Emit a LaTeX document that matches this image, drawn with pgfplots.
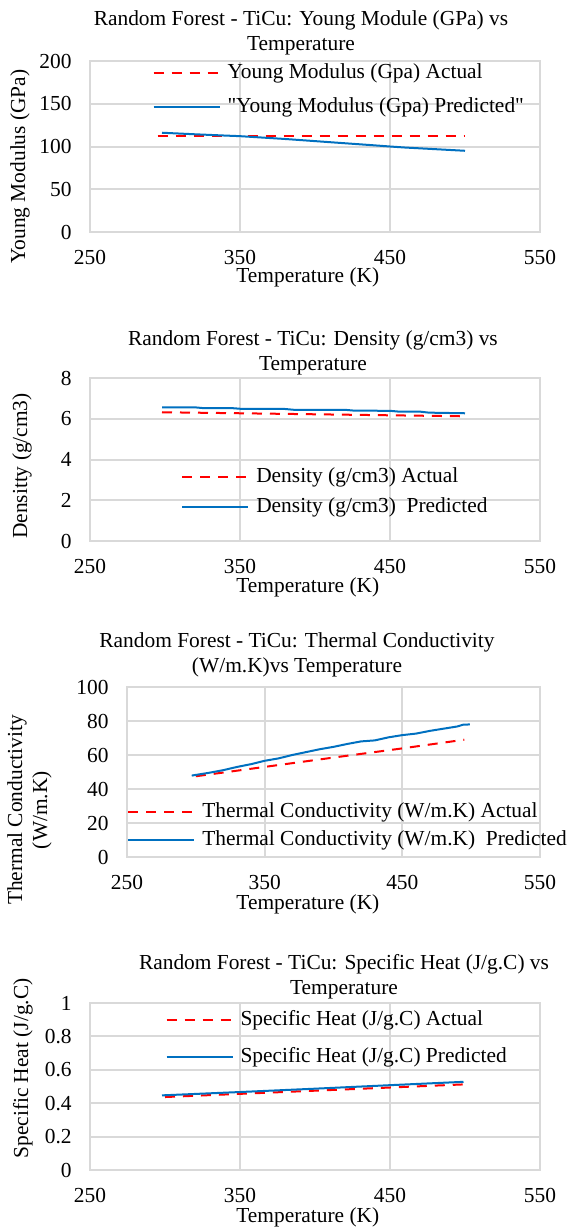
\documentclass[border=0pt]{standalone}
\usepackage{fontspec}
\setmainfont{Liberation Serif}
\newfontfamily\qfont{Liberation Serif}
\usepackage{pgfplots}
\pgfplotsset{compat=1.18}

\definecolor{predblue}{HTML}{0070C0}
\definecolor{actred}{HTML}{FF0000}
\definecolor{gridgray}{HTML}{D9D9D9}

\pgfplotsset{
    excelchart/.style={
        scale only axis,
        xmin=250, xmax=550,
        xtick={250,350,450,550},
        ymin=0,
        grid=major,
        grid style={gridgray, line width=1pt},
        axis line style={gridgray, line width=1pt},
        major tick length=0pt,
        tick style={draw=none},
        font=\fontsize{10.7}{12.5}\selectfont,
        /pgf/number format/assume math mode=true,
        xticklabel style={anchor=center, yshift=-12.75pt},
        yticklabel style={anchor=east, inner sep=0pt, xshift=-9pt},
        every axis title shift=0pt,
        title style={anchor=south, inner sep=0pt, align=center},
        xlabel={Temperature (K)},
        xlabel style={anchor=center, inner sep=0pt},
        ylabel style={anchor=center, inner sep=0pt, align=center, rotate=0},
        legend style={draw=none, fill=none, anchor=north west, inner sep=0pt,
            nodes={inner sep=0pt, text height=7.5pt, text depth=2.5pt},
            /tikz/every odd column/.append style={column sep=3.5pt}},
        legend cell align=left,
        legend image code/.code={\draw[##1] (0pt,0pt) -- (33pt,0pt);},
    },
    actual/.style={actred, line width=1pt, dash pattern=on 5pt off 4pt},
    predicted/.style={predblue, line width=1pt},
}

\begin{document}
\begin{tikzpicture}
\useasboundingbox (0,0) rectangle (283.5pt,-613.5pt);

% Young modulus
\begin{axis}[excelchart,
    at={(45pt,-116pt)}, anchor=south west,
    width=225pt, height=85.5pt,
    ymax=200, ytick={0,50,100,150,200},
    title={Random Forest - TiCu: Young Module (GPa) vs\\Temperature},
    title style={at={(axis description cs:0.5,1)}, xshift=-7pt, yshift=2.75pt},
    xlabel style={at={(axis description cs:0.484,0)}, yshift=-22.75pt},
    ylabel={Young Modulus (GPa)},
    ylabel style={at={(axis description cs:-0.1556,0.383)}},
    legend style={at={(axis description cs:0.138,0.988)}, row sep=7pt},
]
\addplot[actual] coordinates {(295,112.3) (350,112.3) (400,112.3) (450,112.3) (500,112.3)};
\addplot[predicted] coordinates {(298,116.1) (320,114.3) (340,112.8) (350,112.1) (360,111.0)
    (380,108.8) (400,106.3) (420,103.8) (440,101.3) (450,100.0) (460,98.8) (480,96.9) (500,95.0)};
\legend{Young Modulus (Gpa) Actual, {\qfont"Young Modulus (Gpa) Predicted"}}
\end{axis}

% Density
\begin{axis}[excelchart,
    at={(45pt,-270.5pt)}, anchor=south west,
    width=225pt, height=81.5pt,
    ymax=8, ytick={0,2,4,6,8},
    title={Random Forest - TiCu: Density (g/cm3) vs\\Temperature},
    title style={at={(axis description cs:0.5,1)}, xshift=-1pt, yshift=1.25pt},
    xlabel style={at={(axis description cs:0.484,0)}, yshift=-23pt},
    ylabel={Densitty (g/cm3)},
    ylabel style={at={(axis description cs:-0.151,0.46)}},
    legend style={at={(axis description cs:0.202,0.454)}, row sep=5pt},
]
\addplot[actual] coordinates {(298,6.32) (350,6.27) (400,6.22) (450,6.17) (500,6.12)};
\addplot[predicted] coordinates {(298,6.56) (320,6.56) (326,6.52) (345,6.52) (352,6.48) (380,6.48)
    (386,6.44) (420,6.44) (426,6.40) (450,6.39) (456,6.35) (470,6.35) (476,6.30) (500,6.27)};
\legend{Density (g/cm3) Actual, Density (g/cm3)\ \ Predicted}
\end{axis}

% Thermal conductivity
\begin{axis}[excelchart,
    at={(63.5pt,-428.5pt)}, anchor=south west,
    width=206.5pt, height=85pt,
    ymax=100, ytick={0,20,40,60,80,100},
    title={Random Forest - TiCu: Thermal Conductivity\\(W/m.K)vs Temperature},
    title style={at={(axis description cs:0.5,1)}, xshift=-18.25pt, yshift=4.75pt},
    xlabel style={at={(axis description cs:0.438,0)}, yshift=-23.5pt},
    ylabel={Thermal Conductivity\\(W/m.K)},
    ylabel style={at={(axis description cs:-0.236,0.276)}},
    legend style={at={(axis description cs:0.0,0.324)}, row sep=4pt},
]
\addplot[actual] coordinates {(300,47.5) (350,53.0) (400,58.5) (450,63.9) (495,69.0)};
\addplot[predicted] coordinates {(297,47.9) (310,49.6) (320,51.1) (330,53.0) (340,54.6) (350,56.6)
    (360,58.0) (370,60.0) (380,61.7) (390,63.4) (400,64.8) (410,66.5) (420,68.0) (430,68.6)
    (440,70.4) (450,71.7) (460,72.6) (470,74.2) (480,75.5) (490,76.8) (494,77.8) (499,78.0)};
\legend{Thermal Conductivity (W/m.K) Actual, Thermal Conductivity (W/m.K)\ \ Predicted}
\end{axis}

% Specific heat
\begin{axis}[excelchart,
    at={(45pt,-585pt)}, anchor=south west,
    width=225pt, height=83.5pt,
    ymax=1, ytick={0,0.2,0.4,0.6,0.8,1},
    title={Random Forest - TiCu: Specific Heat (J/g.C) vs\\Temperature},
    title style={at={(axis description cs:0.5,1)}, xshift=14.5pt, yshift=1.75pt},
    xlabel style={at={(axis description cs:0.484,0)}, yshift=-23.5pt},
    ylabel={Specific Heat (J/g.C)},
    ylabel style={at={(axis description cs:-0.149,0.608)}},
    legend style={at={(axis description cs:0.167,0.958)}, row sep=8.5pt},
]
\addplot[actual] coordinates {(300,0.437) (350,0.456) (400,0.475) (450,0.494) (500,0.513)};
\addplot[predicted] coordinates {(298,0.447) (350,0.467) (400,0.487) (450,0.508) (499,0.528)};
\legend{Specific Heat (J/g.C) Actual, Specific Heat (J/g.C) Predicted}
\end{axis}
\end{tikzpicture}
\end{document}
